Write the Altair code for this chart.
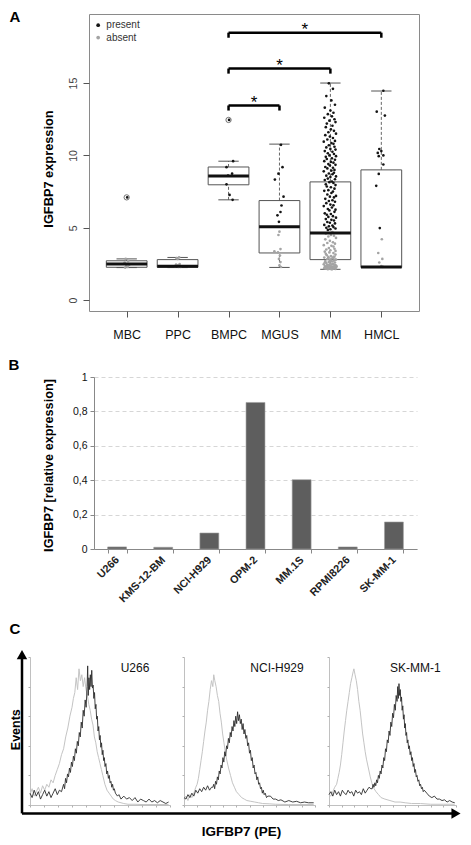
import altair as alt
import pandas as pd

FONT = "Liberation Sans"

# ================= Panel A: IGFBP7 expression =================
groups = ["MBC", "PPC", "BMPC", "MGUS", "MM", "HMCL"]
lower_whisker = [2.25, 2.25, 6.93, 2.26, 2.13, 2.26]
q1 = [2.27, 2.27, 7.97, 3.26, 2.80, 2.26]
median = [2.50, 2.35, 8.58, 5.07, 4.64, 2.29]
q3 = [2.72, 2.80, 9.20, 6.88, 8.17, 9.00]
upper_whisker = [2.85, 2.95, 9.60, 10.78, 15.00, 14.45]
outlier_group = ["MBC", "BMPC"]
outlier_value = [7.10, 12.45]

# jittered points: values and jitter (1/100 of a group slot)
mbc_present = [7.10]
mbc_present_jit = [1]
mbc_absent = [2.85, 2.70, 2.60, 2.50, 2.45, 2.35, 2.30, 2.25]
mbc_absent_jit = [-2, 3, -4, 1, 5, -1, 2, -3]
ppc_absent = [2.95, 2.90, 2.85, 2.50, 2.45, 2.40, 2.35, 2.30, 2.30]
ppc_absent_jit = [3, -2, 0, 4, -3, 1, -5, 2, 6]
bmpc_present = [12.45, 9.60, 9.19, 8.74, 8.60, 8.00, 7.27, 6.93]
bmpc_present_jit = [1, 9, -4, 7, -1, -4, 2, 8]
mgus_present = [10.73, 9.19, 8.74, 8.33, 7.15, 6.54, 6.09, 5.86, 5.41]
mgus_present_jit = [3, 6, -2, -9, 8, 4, 2, -4, -1]
mgus_absent = [4.73, 4.50, 3.53, 3.37, 3.30, 3.08, 2.85, 2.63, 2.40, 2.29]
mgus_absent_jit = [0, -2, 2, -10, -3, 1, -1, 2, 0, 3]
mm_present = [14.98, 14.6, 14.1, 13.8, 13.5, 13.3, 13.1, 12.95, 12.85, 12.7,
              12.6, 12.5, 12.4, 12.3, 12.2, 12.05, 11.95, 11.8, 11.7, 11.6,
              11.5, 11.4, 11.3, 11.2, 11.1, 11.0, 10.95, 10.85, 10.8, 10.7,
              10.6, 10.55, 10.45, 10.4, 10.3, 10.25, 10.15, 10.1, 10.0, 9.95,
              9.9, 9.8, 9.75, 9.7, 9.6, 9.55, 9.5, 9.4, 9.35, 9.3,
              9.2, 9.15, 9.1, 9.0, 8.95, 8.9, 8.8, 8.75, 8.7, 8.6,
              8.55, 8.5, 8.4, 8.35, 8.3, 8.2, 8.15, 8.1, 8.0, 7.95,
              7.85, 7.8, 7.7, 7.6, 7.55, 7.5, 7.4, 7.3, 7.2, 7.15,
              7.1, 7.0, 6.9, 6.85, 6.8, 6.7, 6.6, 6.55, 6.5, 6.4,
              6.3, 6.25, 6.2, 6.1, 6.0, 5.95, 5.9, 5.8, 5.75, 5.7,
              5.6, 5.55, 5.5, 5.4, 5.35, 5.3, 5.2, 5.15, 5.1, 5.05,
              5.0, 4.95, 4.9, 4.85]
mm_present_jit = [-3, 5, -8, 2, 9, -11, 0, 6, -5, 3,
                  -12, 8, -2, 10, -7, 4, -9, 1, 7, -4,
                  11, -10, -1, 5, -6, 9, -13, 2, 6, -3,
                  8, -8, 0, 10, -11, 4, -5, 7, -2, 11,
                  -9, 3, -7, 9, -12, 1, 6, -4, 10, -1,
                  -10, 5, -6, 8, 2, -13, 7, -3, 4, -8,
                  11, 0, -5, 9, -11, 3, -2, 6, -9, 10,
                  -7, 1, 8, -4, -12, 5, 2, -6, 11, -1,
                  7, -10, 4, -3, 9, -8, 0, 6, -13, 3,
                  -5, 10, -2, 8, -11, 1, -7, 5, -4, 11,
                  -9, 2, 7, -6, -1, 9, -12, 4, -3, 6,
                  -8, 10, 0, -5]
mm_absent = [4.7, 4.6, 4.5, 4.45, 4.4, 4.3, 4.2, 4.1, 4.0, 3.95,
             3.9, 3.8, 3.75, 3.7, 3.6, 3.55, 3.5, 3.45, 3.4, 3.35,
             3.3, 3.25, 3.2, 3.15, 3.1, 3.05, 3.0, 2.97, 2.94, 2.9,
             2.87, 2.84, 2.8, 2.77, 2.74, 2.7, 2.67, 2.64, 2.6, 2.57,
             2.54, 2.5, 2.48, 2.46, 2.44, 2.42, 2.4, 2.38, 2.36, 2.34,
             2.32, 2.3, 2.29, 2.28, 2.27, 2.26, 2.25, 2.24, 2.23, 2.22,
             2.21, 2.2, 2.19, 2.18, 2.17, 2.16, 2.15, 2.14, 2.13, 2.2,
             2.25, 2.3, 2.35, 2.4, 2.5, 2.6, 2.7, 2.8, 2.9, 3.0]
mm_absent_jit = [4, -9, 1, 7, -4, 11, -10, -1, 5, -6,
                 9, -13, 2, 6, -3, 8, -8, 0, 10, -11,
                 -2, 6, -9, 10, -7, 1, 8, -4, -12, 5,
                 2, -6, 11, -1, 7, -10, 4, -3, 9, -8,
                 0, 6, -13, 3, -5, 10, -2, 8, -11, 1,
                 -7, 5, -4, 11, -9, 2, 7, -6, -1, 9,
                 -12, 4, -3, 6, -8, 10, 0, -5, 3, -10,
                 7, -2, 12, -7, 5, -11, 1, 9, -4, 6]
hmcl_present = [14.47, 13.02, 12.75, 10.44, 10.30, 10.17, 10.00, 9.95, 9.37, 8.72, 7.90, 4.98]
hmcl_present_jit = [4, -9, 7, -4, 0, -7, 4, -5, 4, -5, -10, -3]
hmcl_absent = [4.21, 3.26, 2.85, 2.60, 2.35, 2.30]
hmcl_absent_jit = [1, -6, 2, -4, 0, 3]

bracket_from = "BMPC"
bracket_to = ["MGUS", "MM", "HMCL"]
bracket_y = [13.45, 16.00, 18.48]
bracket_label = ["*", "*", "*"]
legend_labels = ["present", "absent"]
legend_y = [19.0, 18.14]

# ================= Panel B: qPCR in cell lines =================
cell_lines = ["U266", "KMS-12-BM", "NCI-H929", "OPM-2", "MM.1S", "RPMI8226", "SK-MM-1"]
rel_expression = [0.012, 0.010, 0.093, 0.852, 0.403, 0.012, 0.157]
b_ticks = [0, 0.2, 0.4, 0.6, 0.8, 1.0]

# ================= Panel C: flow cytometry histograms (% of axis) =================
flow_titles = ["U266", "NCI-H929", "SK-MM-1"]
flow_title_x = [75, 71, 68]
u266_ctrl_x = [0, 1.5, 3, 4.5, 6, 7.5, 9, 10.5, 12, 13.5, 15, 16.5, 18, 19.5, 21, 22.5, 24, 25.5, 27, 28.5,
               30, 31, 32, 33, 34, 35, 36, 37, 38, 39, 40, 41, 42, 43, 44, 45, 46, 47, 48, 49, 50, 51, 52,
               53.5, 55, 56.5, 58, 59.5, 61, 63, 65, 67, 70, 75, 80, 90, 99]
u266_ctrl_y = [7, 11, 6, 9, 12, 8, 13, 10, 14, 12, 17, 15, 20, 24, 28, 34, 38, 46, 52, 60,
               66, 72, 76, 86, 78, 92, 84, 88, 80, 86, 78, 74, 68, 64, 58, 54, 46, 42, 36, 32, 28, 24, 20,
               14, 10, 8, 6, 4, 3, 2, 1.5, 1, 0.5, 0.5, 0.3, 0.3, 0.3]
u266_igf_x = [0, 1.5, 3, 4.5, 6, 7.5, 9, 10.5, 12, 13.5, 15, 16.5, 18, 19.5, 21, 22.5,
              24, 24.7, 25.4, 26.1, 26.8, 27.5, 28.2, 28.9, 29.6, 30.3,
              31, 31.7, 32.4, 33.1, 33.8, 34.5, 35.2, 35.9, 36.6, 37.3,
              38, 38.7, 39.4, 40.1, 40.8, 41.2, 41.6, 42.1, 42.6, 43.1,
              43.6, 44.1, 44.6, 45.1, 45.6, 46.1, 46.6, 47.1, 47.6, 48.1,
              48.6, 49.1, 49.6, 50.1, 50.6, 51.1, 51.6, 52.1, 52.6, 53.1,
              53.6, 54.2, 54.8, 55.4, 56, 56.6, 57.2, 57.8, 58.4, 59,
              59.6, 60.2, 61,
              62.5, 63.5, 65, 67, 69, 71, 73, 75, 77, 79, 81, 83, 85, 87, 89, 91, 93, 95, 97, 99]
u266_igf_y = [8, 5, 10, 6, 9, 4, 7, 10, 6, 9, 5, 8, 11, 7, 10, 9,
              14, 11, 18, 15, 21, 19, 25, 22, 29, 26,
              33, 30, 38, 35, 43, 40, 49, 46, 56, 52,
              64, 60, 71, 66, 80, 94, 74, 86, 78, 88,
              80, 91, 79, 81, 72, 76, 65, 68, 58, 60,
              50, 53, 44, 47, 39, 42, 34, 37, 30, 32,
              26, 28, 21, 23, 18, 20, 15, 16, 12, 14,
              10, 11, 8,
              6, 7, 4, 6, 4, 5, 3, 5, 2, 4, 3, 2, 4, 2, 3, 1.5, 3, 2, 1, 2]
h929_ctrl_x = [0, 1.5, 3, 4.5, 6, 7.5, 9, 10, 11, 12, 13, 14, 15, 16, 17, 18, 19, 20, 21, 22, 22.7,
               23.5, 24.5, 25.5, 26.5, 27.5, 28.5, 29.5, 30.5, 31.5, 32.5, 34, 35.5, 37, 38.5, 40,
               42, 44, 46, 48, 51, 54, 57, 60, 65, 70, 80, 99]
h929_ctrl_y = [4, 6, 3, 7, 5, 8, 12, 14, 18, 24, 30, 36, 43, 50, 56, 64, 70, 78, 84, 80, 88,
               84, 80, 74, 70, 62, 56, 48, 42, 36, 31, 25, 20, 15, 12, 9,
               7, 5, 4, 3, 2.5, 2, 1.5, 1, 0.8, 0.5, 0.3, 0.3]
h929_igf_x = [0, 1.5, 3, 4.5, 6, 7.5, 9, 10.5, 12, 13.5, 15, 16.5, 18, 19.5, 21,
              22, 22.7, 23.4, 24.1, 24.8, 25.5, 26.2, 26.9, 27.6, 28.3,
              29, 29.7, 30.4, 31.1, 31.8, 32.5, 33.2, 33.9, 34.6, 35.3,
              36, 36.7, 37.4, 38.1, 38.8, 39.5, 40.2, 40.9, 41.6, 42.3,
              43, 43.7, 44.4, 45.1, 45.8, 46.5, 47.2, 47.9, 48.6, 49.3,
              50, 50.7, 51.4, 52.1, 52.8, 53.5, 54.2, 54.9, 55.6, 56.3,
              57, 57.7, 58.4, 59.1, 59.8, 60.5, 61.2, 62, 63, 64,
              66, 68, 70, 72, 74, 77, 80, 83, 86, 89, 92, 95, 99]
h929_igf_y = [5, 4, 7, 5, 8, 6, 10, 8, 11, 9, 12, 10, 13, 10, 12,
              12, 14, 11, 16, 14, 19, 17, 23, 21, 27,
              25, 32, 29, 36, 33, 40, 38, 45, 42, 49,
              46, 53, 50, 57, 53, 60, 55, 63, 57, 61,
              55, 58, 51, 55, 48, 51, 45, 47, 40, 42,
              35, 37, 30, 32, 25, 27, 21, 22, 17, 19,
              14, 15, 11, 12, 8, 10, 7, 8, 5, 6,
              6, 4, 4, 3, 3.5, 2, 3, 2, 2.5, 1.5, 2, 1.5, 1.5]
skmm_ctrl_x = [0, 1.5, 3, 4.5, 6, 7, 8, 9, 10, 11, 12, 13, 14, 15, 16, 17, 18, 19, 19.6,
               20.5, 21.5, 22.5, 23.5, 24.5, 25.5, 26.5, 27.5, 28.5, 29.5, 31, 32.5, 34, 35.5, 37,
               39, 41, 44, 48, 52, 56, 60, 65, 72, 80, 90, 99]
skmm_ctrl_y = [7, 6, 9, 12, 14, 18, 22, 27, 34, 42, 50, 57, 64, 70, 76, 82, 86, 90, 92,
               88, 84, 78, 70, 64, 56, 48, 42, 36, 31, 25, 19, 14, 11, 9,
               7, 5, 4, 3, 2, 2, 1.5, 1, 1, 0.5, 0.5, 0.5]
skmm_igf_x = [0, 1.5, 3, 4.5, 6, 7.5, 9, 10.5, 12, 13.5, 15, 16.5, 18, 19.5, 21, 22.5, 24, 25.5, 27,
              28.5, 30, 31.5, 33,
              34, 34.7, 35.4, 36.1, 36.8, 37.5, 38.2, 38.9, 39.6, 40.3,
              41, 41.7, 42.4, 43.1, 43.8, 44.5, 45.2, 45.9, 46.6, 47.3,
              48, 48.7, 49.4, 50.1, 50.8, 51.5, 52.2, 52.9, 53.6, 54.1,
              54.6, 55.1, 55.6, 56.1, 56.6, 57.1, 57.6, 58.1, 58.6, 59.1,
              59.6, 60.1, 60.6, 61.1, 61.6, 62.1, 62.7, 63.3, 63.9, 64.5,
              65.1, 65.7, 66.3, 66.9, 67.5, 68.1, 68.7, 69.3, 70, 70.7,
              71.4, 72.1, 72.8, 73.5, 74.2, 75,
              77, 79, 81, 83, 85, 87, 89, 91, 93, 95, 97, 99]
skmm_igf_y = [7, 9, 6, 10, 7, 9, 6, 10, 8, 7, 10, 8, 9, 6, 10, 8, 9, 7, 11,
              8, 10, 12, 11,
              11, 14, 12, 15, 13, 17, 15, 20, 18, 23,
              21, 27, 25, 32, 30, 38, 36, 44, 42, 50,
              47, 56, 53, 62, 59, 68, 64, 74, 70, 80,
              72, 82, 74, 78, 70, 73, 64, 67, 58, 61,
              52, 55, 47, 49, 42, 44, 38, 40, 34, 36,
              30, 32, 26, 28, 22, 24, 19, 20, 16, 17,
              13, 14, 11, 12, 9, 10,
              8, 6, 5, 6, 4, 4, 3, 3.5, 2, 3, 2, 1.5]

# ---------------- helpers ----------------
ONE = pd.DataFrame({"v": [0]})


def spacer(w, h):
    return alt.Chart(ONE).mark_point(opacity=0, size=0).encode(
        x=alt.value(w / 2), y=alt.value(0)).properties(width=w, height=h)


def extent_marker(top, bottom):
    # invisible rule: fixes how far a row reaches above and below its plot
    return alt.Chart(ONE).mark_rule(opacity=0, strokeWidth=0.1).encode(
        x=alt.value(0), y=alt.value(top), y2=alt.value(bottom))


def label_text(text, x, y, size, weight="bold", angle=0):
    return alt.Chart(pd.DataFrame({"t": [text]})).mark_text(
        fontSize=size, fontWeight=weight, font=FONT, color="#000", angle=angle,
        align="center", baseline="middle").encode(
        x=alt.value(x), y=alt.value(y), text="t:N")


# ================= build panel A =================
A_W, A_H = 330, 297
pos = {g: i + 1 for i, g in enumerate(groups)}
BOX_HALF, CAP_HALF = 0.4, 0.2
box_df = pd.DataFrame({"group": groups, "pos": [pos[g] for g in groups],
                       "lw": lower_whisker, "q1": q1, "med": median, "q3": q3, "uw": upper_whisker})
box_df["left"] = box_df["pos"] - BOX_HALF
box_df["right"] = box_df["pos"] + BOX_HALF
box_df["capl"] = box_df["pos"] - CAP_HALF
box_df["capr"] = box_df["pos"] + CAP_HALF

point_sets = [
    ("MBC", "present", mbc_present, mbc_present_jit),
    ("MBC", "absent", mbc_absent, mbc_absent_jit),
    ("PPC", "absent", ppc_absent, ppc_absent_jit),
    ("BMPC", "present", bmpc_present, bmpc_present_jit),
    ("MGUS", "absent", mgus_absent, mgus_absent_jit),
    ("MGUS", "present", mgus_present, mgus_present_jit),
    ("MM", "absent", mm_absent, mm_absent_jit),
    ("MM", "present", mm_present, mm_present_jit),
    ("HMCL", "absent", hmcl_absent, hmcl_absent_jit),
    ("HMCL", "present", hmcl_present, hmcl_present_jit),
]
rows = []
for g, st, vals, jit in point_sets:
    for v, j in zip(vals, jit):
        rows.append({"group": g, "status": st, "value": v, "x": pos[g] + j / 100.0})
pts_df = pd.DataFrame(rows)

out_df = pd.DataFrame({"x": [pos[g] for g in outlier_group], "value": outlier_value})

br_df = pd.DataFrame({"x1": [pos[bracket_from]] * len(bracket_to),
                      "x2": [pos[t] for t in bracket_to],
                      "y": bracket_y, "lab": bracket_label})
br_df["ytick"] = br_df["y"] - 0.35
br_df["xm"] = (br_df["x1"] + br_df["x2"]) / 2
br_df["ystar"] = br_df["y"] - 0.18

leg_df = pd.DataFrame({"status": legend_labels, "y": legend_y,
                       "x": [0.44, 0.44], "tx": [0.60, 0.60]})

xA = alt.Scale(domain=[0.26, 6.74], nice=False, zero=False)
yA = alt.Scale(domain=[-0.75, 19.77], nice=False, zero=False)
col = alt.Color("status:N", scale=alt.Scale(domain=["present", "absent"],
                                            range=["#141414", "#a4a4a4"]), legend=None)
label_expr = "[" + ",".join("'%s'" % g for g in groups) + "][datum.value - 1]"
x_axis_A = alt.Axis(values=[1, 2, 3, 4, 5, 6], labelExpr=label_expr, domain=False, grid=False,
                    tickSize=6, tickColor="#555", labelFontSize=12.5, labelPadding=11,
                    labelColor="#111", title=None)
y_axis_A = alt.Axis(values=[0, 5, 10, 15], domain=False, grid=False, tickSize=6, tickColor="#555",
                    labelAngle=270, labelAlign="center", labelBaseline="bottom", labelPadding=5,
                    labelFontSize=10.5, labelColor="#444",
                    title="IGFBP7 expression", titleFontSize=12.8, titleFontWeight="bold",
                    titleColor="#000", titleAngle=270, titleX=-41, titleY=A_H / 2 + 6,
                    titleAlign="center", titleBaseline="middle")


def XA(f):
    return alt.X(f, type="quantitative", scale=xA, axis=x_axis_A)


def YA(f):
    return alt.Y(f, type="quantitative", scale=yA, axis=y_axis_A)


boxes = alt.Chart(box_df).mark_rect(fillOpacity=0, stroke="#555", strokeWidth=1).encode(
    x=XA("left"), x2="right:Q", y=YA("q1"), y2="q3:Q")
wh_up = alt.Chart(box_df).mark_rule(color="#555", strokeWidth=0.9, strokeDash=[3, 2]).encode(
    x=XA("pos"), y=YA("q3"), y2="uw:Q")
wh_lo = alt.Chart(box_df).mark_rule(color="#555", strokeWidth=0.9, strokeDash=[3, 2]).encode(
    x=XA("pos"), y=YA("lw"), y2="q1:Q")
cap_up = alt.Chart(box_df).mark_rule(color="#555", strokeWidth=1).encode(
    x=XA("capl"), x2="capr:Q", y=YA("uw"))
cap_lo = alt.Chart(box_df).mark_rule(color="#555", strokeWidth=1).encode(
    x=XA("capl"), x2="capr:Q", y=YA("lw"))
points = alt.Chart(pts_df).mark_circle(size=7, opacity=1).encode(
    x=XA("x"), y=YA("value"), color=col)
medians = alt.Chart(box_df).mark_rule(color="#111", strokeWidth=3).encode(
    x=XA("left"), x2="right:Q", y=YA("med"))
outliers = alt.Chart(out_df).mark_point(shape="circle", filled=False, size=28, color="#222",
                                        strokeWidth=0.9).encode(x=XA("x"), y=YA("value"))
br_h = alt.Chart(br_df).mark_rule(color="#000", strokeWidth=2.5).encode(
    x=XA("x1"), x2="x2:Q", y=YA("y"))
br_l = alt.Chart(br_df).mark_rule(color="#000", strokeWidth=2.5).encode(
    x=XA("x1"), y=YA("y"), y2="ytick:Q")
br_r = alt.Chart(br_df).mark_rule(color="#000", strokeWidth=2.5).encode(
    x=XA("x2"), y=YA("y"), y2="ytick:Q")
stars = alt.Chart(br_df).mark_text(fontSize=17, font=FONT, color="#000", baseline="alphabetic").encode(
    x=XA("xm"), y=YA("ystar"), text="lab:N")
leg_dots = alt.Chart(leg_df).mark_circle(size=14, opacity=1).encode(
    x=XA("x"), y=YA("y"), color=col)
leg_txt = alt.Chart(leg_df).mark_text(fontSize=10, font=FONT, color="#333", align="left",
                                      baseline="middle").encode(
    x=XA("tx"), y=YA("y"), text="status:N")
letterA = label_text("A", -74, 3, 15)
markA = extent_marker(-5, A_H + 33)

chartA = alt.layer(boxes, wh_up, wh_lo, cap_up, cap_lo, points, medians, outliers,
                   br_h, br_l, br_r, stars, leg_dots, leg_txt, letterA, markA).properties(
    width=A_W, height=A_H, view=alt.ViewBackground(stroke="#8a8a8a", strokeWidth=1))

# ================= build panel B =================
B_W, B_H = 323, 172
dfB = pd.DataFrame({"line": cell_lines, "rel": rel_expression})
barsB = alt.Chart(dfB).mark_bar(color="#5e5e5e", stroke="#a0a0a0", strokeWidth=0.6).encode(
    x=alt.X("line:N", sort=cell_lines,
            scale=alt.Scale(paddingInner=0.59, paddingOuter=0.295),
            axis=alt.Axis(labelAngle=315, labelAlign="right", labelBaseline="middle",
                          labelFontSize=10.8, labelFontWeight="bold", labelPadding=5,
                          labelColor="#222",
                          tickBand="extent", tickSize=4, tickColor="#888",
                          domainColor="#888", title=None, grid=False)),
    y=alt.Y("rel:Q", scale=alt.Scale(domain=[0, 1], nice=False, zero=True),
            axis=alt.Axis(values=b_ticks,
                          labelExpr="replace(format(datum.value, '.1~f'), '.', ',')",
                          labelFontSize=10.5, labelPadding=3, labelColor="#111",
                          tickSize=4, tickColor="#888", domainColor="#888",
                          grid=True, gridDash=[4, 3], gridColor="#d6d6d6",
                          title="IGFBP7 [relative expression]", titleFontSize=12.7,
                          titleFontWeight="bold", titleColor="#000", titleAngle=270,
                          titleX=-46, titleY=B_H / 2 + 2, titleAlign="center",
                          titleBaseline="middle")))
letterB = label_text("B", -80, -11.6, 15)
markB = extent_marker(-32, B_H + 60)
chartB = alt.layer(barsB, letterB, markB).properties(width=B_W, height=B_H)

# ================= build panel C =================
C_H = 148
P_W = [140, 131, 127]
xC_axis = alt.Axis(title=None, labels=False, grid=False, domainColor="#b0b0b0", domainWidth=0.8,
                   tickColor="#b0b0b0", tickSize=2, tickCount=12)
yC_axis = alt.Axis(title=None, labels=False, grid=False, domainColor="#b0b0b0", domainWidth=0.8,
                   tickColor="#b0b0b0", tickSize=2, tickCount=5)
xsC = alt.Scale(domain=[0, 100], nice=False, zero=False)
ysC = alt.Scale(domain=[0, 100], nice=False, zero=False)


def flow_panel(cx, cy, ix, iy, title, title_x, w, extra=()):
    ctrl = pd.DataFrame(list(zip(cx, cy)), columns=["x", "y"])
    igf = pd.DataFrame(list(zip(ix, iy)), columns=["x", "y"])
    enc = dict(x=alt.X("x:Q", scale=xsC, axis=xC_axis), y=alt.Y("y:Q", scale=ysC, axis=yC_axis))
    l1 = alt.Chart(ctrl).mark_line(color="#c4c4c4", strokeWidth=1).encode(**enc)
    l2 = alt.Chart(igf).mark_line(color="#2c2c2c", strokeWidth=0.9).encode(**enc)
    tdf = pd.DataFrame({"t": [title], "x": [title_x], "y": [92.7]})
    t = alt.Chart(tdf).mark_text(fontSize=12, font=FONT, color="#111").encode(text="t:N", **enc)
    return alt.layer(l1, l2, t, *extra).properties(width=w, height=C_H)


arrow_v = alt.Chart(ONE).mark_rule(color="#000", strokeWidth=2.5).encode(
    x=alt.value(-8), y=alt.value(-2), y2=alt.value(156.4))
arrow_h = alt.Chart(ONE).mark_rule(color="#000", strokeWidth=2.5).encode(
    x=alt.value(-8), x2=alt.value(424), y=alt.value(156.4))
head_v = alt.Chart(ONE).mark_point(shape="triangle-up", filled=True, size=110, color="#000",
                                   opacity=1).encode(x=alt.value(-8), y=alt.value(-2.4))
head_h = alt.Chart(ONE).mark_point(shape="triangle-right", filled=True, size=110, color="#000",
                                   opacity=1).encode(x=alt.value(426), y=alt.value(156.4))
events = label_text("Events", -14.5, 72.7, 12.5, angle=270)
xtitle = label_text("IGFBP7 (PE)", 211.4, 174.8, 13.5)
letterC = label_text("C", -15, -27.7, 15)
markC = extent_marker(-48, C_H)

p1 = flow_panel(u266_ctrl_x, u266_ctrl_y, u266_igf_x, u266_igf_y, flow_titles[0], flow_title_x[0],
                P_W[0], extra=(arrow_v, arrow_h, head_v, head_h, events, xtitle, letterC, markC))
p2 = flow_panel(h929_ctrl_x, h929_ctrl_y, h929_igf_x, h929_igf_y, flow_titles[1], flow_title_x[1],
                P_W[1])
p3 = flow_panel(skmm_ctrl_x, skmm_ctrl_y, skmm_igf_x, skmm_igf_y, flow_titles[2], flow_title_x[2],
                P_W[2])

# ================= layout =================
rowA = alt.hconcat(spacer(80, 1), chartA, spacing=0, bounds="flush")
rowB = alt.hconcat(spacer(85, 1), chartB, spacing=0, bounds="flush")
rowC = alt.hconcat(spacer(7, 1), p1, p2, p3, spacing=14, bounds="flush")

chart = alt.vconcat(rowA, rowB, rowC, spacing=0).properties(padding=0).configure_view(
    stroke=None).configure_axis(labelFont=FONT, titleFont=FONT).configure_text(font=FONT)

chart.save("out.html", embed_options={"renderer": "svg", "actions": False})
